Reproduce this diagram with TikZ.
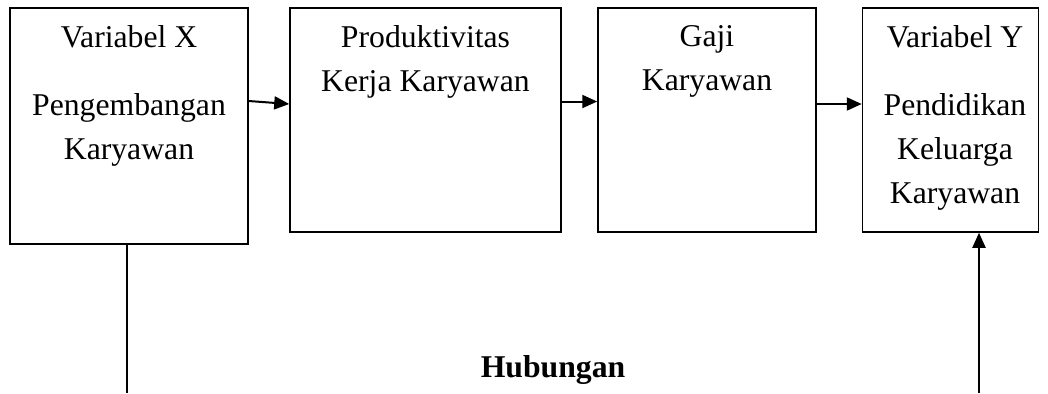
\documentclass[tikz,border=0pt]{standalone}
\usepackage{fontspec}
\setmainfont{Liberation Serif}
\usepackage{tikz}
\usetikzlibrary{calc}
\usetikzlibrary{arrows.meta, positioning}
\tikzset{>={Triangle[length=7.5pt, width=6.5pt]}}
\tikzset{kotak/.style={draw, line width=0.75pt, inner sep=0pt},
	isi/.style={anchor=north, align=center, inner sep=0pt, font=\fontsize{15.85}{22}\selectfont},
	panah/.style={->, line width=1pt}}

\begin{document}
\begin{tikzpicture}[x=0.5pt, y=-0.5pt]
			\useasboundingbox (0, 0) rectangle (1048, 393);
			\node [kotak, minimum width=119pt, minimum height=118pt] (varx) at (129, 126) {};
			\node [kotak, minimum width=135.5pt, minimum height=112pt] (prod) at (425.5, 120) {};
			\node [kotak, minimum width=109pt, minimum height=112pt] (gaji) at (707, 120) {};
			\node [kotak, minimum width=88pt, minimum height=112pt] (vary) at (950.5, 120) {};
			\node [isi] (tx) at (129, 25) {Variabel X\\[12pt]Pengembangan\\Karyawan};
			\node [isi] (tp) at (425.5, 25) {Produktivitas\\Kerja Karyawan};
			\node [isi] (tg) at (707, 25) {Gaji\\Karyawan};
			\node [isi] (ty) at (955, 25) {Variabel Y\\[12pt]Pendidikan\\Keluarga\\Karyawan};
			\draw [panah] ([yshift=12.5pt]varx.east)--([yshift=8pt]prod.west);
			\draw [panah] ([yshift=9.25pt]prod.east)--([yshift=9.25pt]gaji.west);
			\draw [panah] ([yshift=8pt]gaji.east)--([yshift=8pt]vary.west);
			\coordinate (bawahx) at (127, 393);
			\coordinate (bawahy) at (979, 393);
			\draw [line width=1pt] (varx.south -| bawahx)--(bawahx);
			\draw [panah] (bawahy)--(bawahy |- vary.south);
			\node [anchor=base, font=\fontsize{15.85}{22}\selectfont\bfseries] (hub) at (553, 377) {Hubungan};
		\end{tikzpicture}
\end{document}
